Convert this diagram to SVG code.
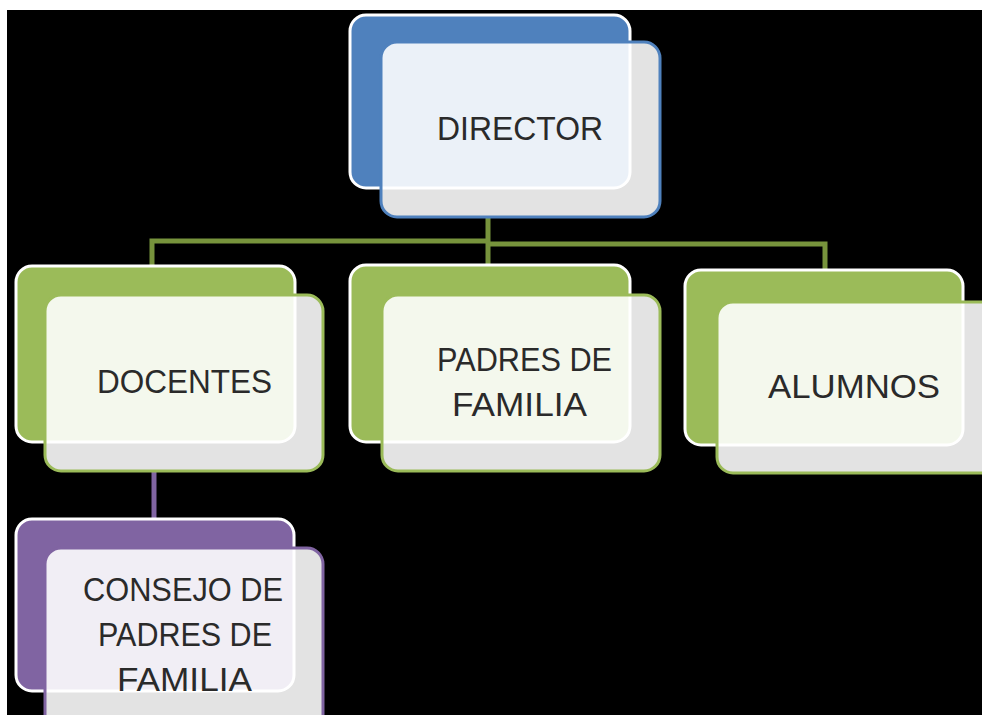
<svg xmlns="http://www.w3.org/2000/svg" width="982" height="715" viewBox="0 0 982 715">
<style>
.back{stroke:#ffffff;stroke-width:3}
.front{fill:#ffffff;fill-opacity:0.89;stroke-width:3}
.blue .back{fill:#4f81bd}
.blue .front{stroke:#4f81bd}
.green .back{fill:#9bbb59}
.green .front{stroke:#9bbb59}
.purple .back{fill:#8064a2}
.purple .front{stroke:#8064a2}
text{font-family:"Liberation Sans",Arial,sans-serif;font-size:34px;fill:#2a2a2a}
.conn{fill:none;stroke-width:5}
</style>
<rect x="0" y="0" width="982" height="715" fill="#ffffff"/>
<rect x="7" y="10" width="975" height="705" fill="#000000"/>
<g id="connectors">
<path class="conn" stroke="#77933c" d="M488 217 V265 M152 265 V241 H488 M488 244 H825 V270"/>
<path class="conn" stroke="#8064a2" d="M154 472 V520"/>
</g>
<g id="director" class="blue">
<rect class="back" x="350" y="15" width="280" height="173" rx="16"/>
<rect class="front" x="381" y="42" width="279" height="175" rx="16"/>
<text x="437" y="140" textLength="166" lengthAdjust="spacingAndGlyphs">DIRECTOR</text>
</g>
<g id="docentes" class="green">
<rect class="back" x="16" y="266" width="279" height="176" rx="16"/>
<rect class="front" x="45" y="295" width="278" height="176" rx="16"/>
<text x="97" y="393" textLength="175" lengthAdjust="spacingAndGlyphs">DOCENTES</text>
</g>
<g id="padres" class="green">
<rect class="back" x="350" y="265" width="280" height="177" rx="16"/>
<rect class="front" x="382" y="295" width="278" height="176" rx="16"/>
<text x="437" y="371" textLength="175" lengthAdjust="spacingAndGlyphs">PADRES DE</text>
<text x="452" y="416" textLength="135" lengthAdjust="spacingAndGlyphs">FAMILIA</text>
</g>
<g id="alumnos" class="green">
<rect class="back" x="685" y="270" width="278" height="175" rx="16"/>
<rect class="front" x="717" y="302" width="280" height="171" rx="16"/>
<text x="768" y="398" textLength="172" lengthAdjust="spacingAndGlyphs">ALUMNOS</text>
</g>
<g id="consejo" class="purple">
<rect class="back" x="16" y="519" width="278" height="172" rx="16"/>
<rect class="front" x="45" y="548" width="278" height="190" rx="16"/>
<text x="83" y="601" textLength="200" lengthAdjust="spacingAndGlyphs">CONSEJO DE</text>
<text x="98" y="646" textLength="174" lengthAdjust="spacingAndGlyphs">PADRES DE</text>
<text x="117" y="691" textLength="135" lengthAdjust="spacingAndGlyphs">FAMILIA</text>
</g>
</svg>
